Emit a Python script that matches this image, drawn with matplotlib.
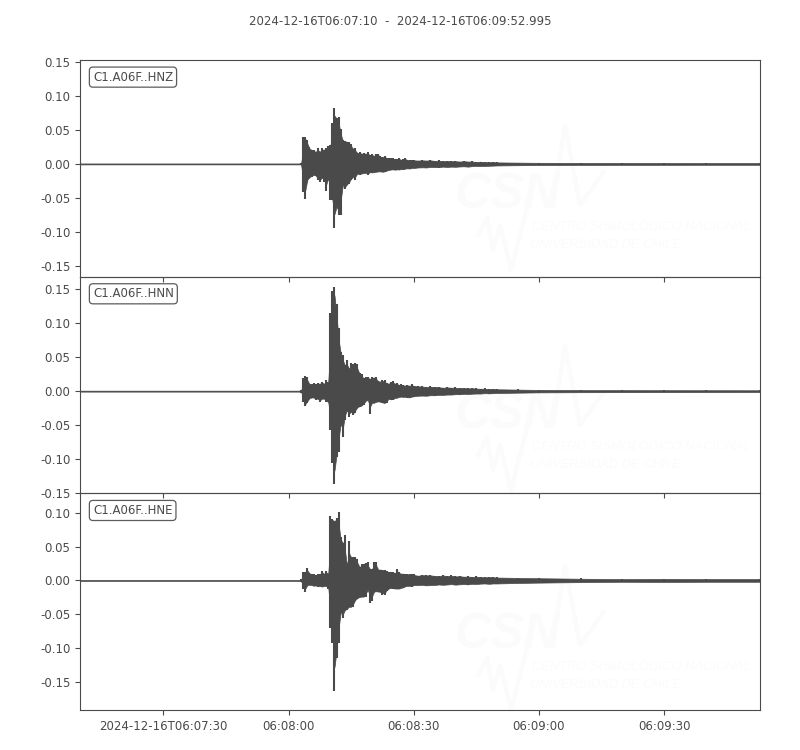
import matplotlib
matplotlib.use('Agg')
import matplotlib.pyplot as plt
import matplotlib.dates as mdates
import numpy as np
import pandas as pd

ink = '#4a4a4a'
mark = '#fbfbfb'

start = '2024-12-16T06:08:00'
x_from = '2024-12-16T06:07:10'
x_to = '2024-12-16T06:09:52.995'
title = '2024-12-16T06:07:10  -  2024-12-16T06:09:52.995'

tick_times = ['2024-12-16T06:07:30', '2024-12-16T06:08:00', '2024-12-16T06:08:30',
              '2024-12-16T06:09:00', '2024-12-16T06:09:30']
tick_labels = ['2024-12-16T06:07:30', '06:08:00', '06:08:30', '06:09:00', '06:09:30']

# seconds after 06:08:00
secs = [-50, 2.9, 3.0, 3.5, 4, 4.5, 5, 5.5, 6, 6.5, 7, 7.5, 8, 8.5, 9, 9.5, 10, 10.5, 11, 11.5, 12,
        12.5, 13, 13.5, 14, 14.5, 15,
        15.5, 16, 16.5, 17, 17.5, 18, 18.5, 19, 19.5, 20, 20.5, 21, 21.5, 22, 22.5,
        23, 23.5, 24, 24.5, 25, 25.5, 26, 26.5, 27, 27.5, 28, 28.5, 29, 29.5, 30,
        31, 32, 33, 34, 35, 36, 37, 38, 39, 40, 41, 42, 43, 44, 45, 46, 47, 48, 49, 50,
        55, 60, 70, 80, 90, 100, 113]

hnz_up = [.0007, .0007, .002, .039, .039, .035, .0245, .021, .020, .018, .023, .018, .024, .021, .023, .026,
          .028, .060, .082, .067, .069, .052, .035, .034, .033, .032, .030,
          .022, .023, .016, .018, .015, .016, .015, .017, .013, .014, .012, .015, .015, .011, .010,
          .012, .009, .0085, .008, .0085, .007, .0075, .0085, .006, .007, .008, .006, .0055, .0065, .0055,
          .005, .0055, .005, .006, .0045, .0055, .004, .005, .004, .0045, .0035, .0045, .0035, .004, .003,
          .0035, .003, .0025, .003, .0025,
          .002, .0018, .0015, .0014, .0014, .0013, .0013]
hnz_low = [-.0007, -.0007, -.002, -.041, -.052, -.026, -.020, -.019, -.016, -.018, -.024, -.027, -.020, -.026,
           -.040, -.021, -.053, -.053, -.095, -.063, -.075, -.075, -.031, -.037, -.031, -.029, -.024,
           -.019, -.023, -.014, -.016, -.014, -.014, -.013, -.016, -.012, -.013, -.012, -.012, -.011, -.011, -.012,
           -.012, -.010, -.0095, -.0085, -.008, -.009, -.008, -.009, -.0075, -.0085, -.007, -.0065, -.0075, -.006, -.0065,
           -.0055, -.005, -.006, -.0045, -.005, -.0055, -.004, -.005, -.004, -.0045, -.004, -.0035, -.0045, -.0035, -.003,
           -.0035, -.003, -.003, -.0025, -.0025,
           -.002, -.0018, -.0015, -.0014, -.0014, -.0013, -.0013]

hnn_up = [.0007, .0007, .002, .0186, .0225, .021, .011, .010, .012, .010, .012, .011, .0137, .011, .016, .0137,
          .114, .147, .153, .128, .092, .058, .053, .038, .045, .033, .041,
          .040, .042, .040, .026, .025, .019, .021, .021, .018, .021, .020, .021, .015, .014, .016,
          .016, .012, .011, .014, .015, .011, .012, .009, .010, .009, .008, .009, .008, .010, .008,
          .007, .0075, .006, .007, .006, .0065, .005, .006, .005, .0055, .0045, .005, .004, .0045, .004,
          .0035, .004, .003, .0035, .003,
          .0025, .002, .0016, .0015, .0014, .0014, .0013]
hnn_low = [-.0007, -.0007, -.002, -.016, -.022, -.018, -.011, -.0093, -.0093, -.013, -.011, -.016, -.011, -.011,
           -.016, -.016, -.057, -.106, -.136, -.097, -.089, -.048, -.067, -.043, -.028, -.038, -.030,
           -.035, -.032, -.024, -.023, -.021, -.021, -.015, -.013, -.033, -.017, -.018, -.016, -.015, -.016, -.017,
           -.018, -.018, -.011, -.013, -.013, -.010, -.010, -.009, -.008, -.009, -.008, -.010, -.010, -.008, -.008,
           -.007, -.0065, -.0075, -.006, -.0065, -.0055, -.006, -.005, -.0055, -.0045, -.005, -.004, -.0045, -.004, -.0035,
           -.004, -.003, -.0035, -.003, -.003,
           -.0025, -.002, -.0016, -.0015, -.0014, -.0014, -.0013]

hne_up = [.0007, .0007, .002, .013, .013, .0186, .011, .010, .009, .008, .010, .0093, .0147, .010, .014, .010,
          .096, .091, .088, .093, .102, .064, .056, .067, .022, .059, .034,
          .034, .034, .032, .020, .024, .025, .026, .027, .017, .017, .028, .028, .016, .016, .016,
          .015, .014, .013, .012, .012, .011, .017, .012, .010, .010, .010, .009, .010, .010, .009,
          .007, .0085, .0075, .008, .007, .0065, .008, .0065, .0075, .006, .007, .0055, .0065, .005, .006,
          .0055, .0045, .0055, .005, .0045,
          .004, .0035, .003, .002, .0025, .002, .002]
hne_low = [-.0007, -.0007, -.002, -.012, -.017, -.0074, -.0064, -.0074, -.0083, -.0074, -.0098, -.0083, -.0098,
           -.0083, -.0083, -.012, -.071, -.093, -.164, -.115, -.093, -.047, -.056, -.044, -.044, -.039, -.039,
           -.039, -.030, -.027, -.025, -.024, -.024, -.024, -.014, -.033, -.030, -.017, -.016, -.017, -.017, -.021,
           -.022, -.016, -.013, -.011, -.012, -.012, -.012, -.013, -.011, -.011, -.009, -.008, -.008, -.009, -.007,
           -.0075, -.0065, -.008, -.007, -.0075, -.006, -.007, -.0065, -.0055, -.007, -.006, -.0055, -.0065, -.005, -.0055,
           -.005, -.0045, -.0055, -.0045, -.005,
           -.004, -.0035, -.003, -.002, -.0025, -.002, -.002]

stations = ['C1.A06F..HNZ', 'C1.A06F..HNN', 'C1.A06F..HNE']
uppers = [hnz_up, hnn_up, hne_up]
lowers = [hnz_low, hnn_low, hne_low]
y_limits = [(-0.166, 0.153), (-0.150, 0.168), (-0.192, 0.129)]
y_ticks = [[-0.15, -0.10, -0.05, 0, 0.05, 0.10, 0.15],
           [-0.15, -0.10, -0.05, 0, 0.05, 0.10, 0.15],
           [-0.15, -0.10, -0.05, 0, 0.05, 0.10]]

# logo outline in picture pixels, top panel
logo_peak_x = [553, 565, 580, 603]
logo_peak_y = [203, 125, 205, 173]
logo_wave_x = [478, 487, 493, 500, 511, 527]
logo_wave_y = [235, 218, 250, 225, 270, 208]

plt.rcParams['font.family'] = 'DejaVu Sans'
plt.rcParams['font.size'] = 8.5

fig, axs = plt.subplots(3, 1, figsize=(8, 7.5), dpi=100, sharex=True)
fig.subplots_adjust(left=0.1, right=0.95, top=0.92, bottom=0.0533, hspace=0)
fig.suptitle(title, fontsize=8.45, color=ink, y=0.9805)

times = pd.Timestamp(start) + pd.to_timedelta(secs, unit='s')
x = mdates.date2num(times.to_pydatetime())


def watermark(dy):
    # faint logo behind the traces, dy in pixels
    fig.text(455 / 800, 1 - (208 + dy) / 750, 'CSN', fontsize=36, style='italic', weight='bold',
             color=mark, family='Liberation Sans', zorder=0)
    fig.text(532 / 800, 1 - (230 + dy) / 750, 'CENTRO SISMOLÓGICO NACIONAL', fontsize=9.3, style='italic',
             color=mark, family='Liberation Sans', zorder=0)
    fig.text(530 / 800, 1 - (248 + dy) / 750, 'UNIVERSIDAD DE CHILE', fontsize=9.3, style='italic',
             color=mark, family='Liberation Sans', zorder=0)
    for px, py in [(logo_peak_x, logo_peak_y), (logo_wave_x, logo_wave_y)]:
        fig.add_artist(plt.Line2D([p / 800 for p in px], [1 - (p + dy) / 750 for p in py],
                                  color=mark, lw=3, zorder=0))


def body(values, pick):
    # solid part of the trace, pulled part way towards the neighbours so peaks stay spiky
    v = np.array(values)
    held = v.copy()
    held[1:-1] = pick(np.vstack([v[:-2], v[1:-1], v[2:]]), axis=0)
    return (v + held) / 2


for ax, name, up, low, ylim, yt, dy in zip(axs, stations, uppers, lowers, y_limits, y_ticks, [0, 220, 440]):
    ax.patch.set_alpha(0)
    ax.set_zorder(2)
    ax.fill_between(x, body(low, np.max), body(up, np.min), color=ink, lw=0.5)
    ax.vlines(x, low, up, color=ink, lw=1.5)
    ax.set_ylim(*ylim)
    ax.set_yticks(yt)
    ax.yaxis.set_major_formatter(plt.FormatStrFormatter('%.2f'))
    ax.tick_params(colors=ink, labelsize=8.5, length=3.5, width=0.8)
    for s in ax.spines.values():
        s.set_color(ink)
        s.set_linewidth(0.8)
    ax.text(0.0190, 0.921, name, transform=ax.transAxes, color=ink, fontsize=8.5, va='center',
            bbox=dict(boxstyle='round,pad=0.3', fc='white', ec=ink, lw=0.9, alpha=0.9))
    watermark(dy)

axs[-1].set_xlim(mdates.date2num(pd.Timestamp(x_from)), mdates.date2num(pd.Timestamp(x_to)))
axs[-1].set_xticks(mdates.date2num(pd.to_datetime(tick_times)))
axs[-1].set_xticklabels(tick_labels)

fig.savefig('out.png', dpi=100)
